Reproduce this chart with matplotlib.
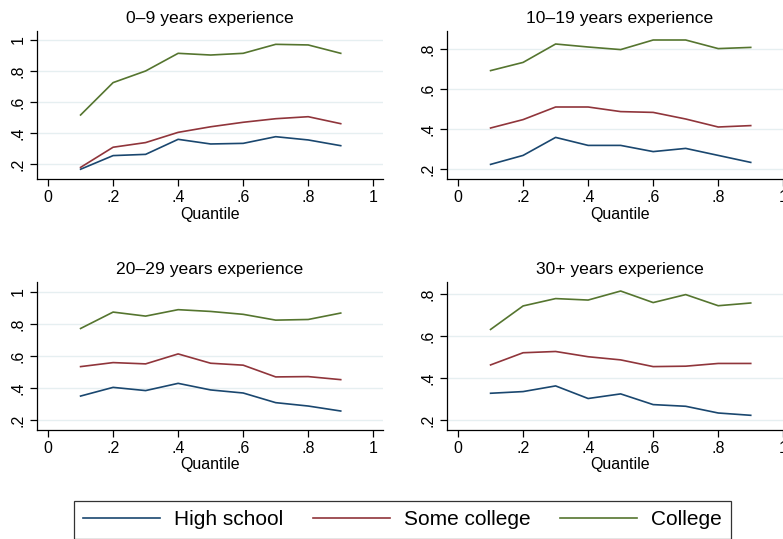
import matplotlib
matplotlib.use("Agg")
import matplotlib.pyplot as plt
import numpy as np

plt.rcParams['font.family'] = ['Liberation Sans', 'DejaVu Sans']

quantiles = [0.1, 0.2, 0.3, 0.4, 0.5, 0.6, 0.7, 0.8, 0.9]
series_names = ["High school", "Some college", "College"]
series_colors = ["#1a476f", "#90353b", "#55752f"]
panel_titles = ["0\u20139 years experience", "10\u201319 years experience",
                "20\u201329 years experience", "30+ years experience"]

# panel 1: 0-9 years
p1_hs = [0.166, 0.254, 0.262, 0.359, 0.329, 0.333, 0.376, 0.355, 0.318]
p1_sc = [0.178, 0.308, 0.338, 0.404, 0.440, 0.469, 0.492, 0.505, 0.460]
p1_co = [0.516, 0.725, 0.800, 0.914, 0.903, 0.914, 0.972, 0.968, 0.914]
# panel 2: 10-19 years
p2_hs = [0.223, 0.268, 0.358, 0.318, 0.318, 0.287, 0.303, 0.268, 0.233]
p2_sc = [0.405, 0.447, 0.510, 0.510, 0.487, 0.483, 0.450, 0.410, 0.417]
p2_co = [0.692, 0.733, 0.825, 0.810, 0.797, 0.845, 0.845, 0.802, 0.808]
# panel 3: 20-29 years
p3_hs = [0.351, 0.405, 0.385, 0.430, 0.389, 0.370, 0.310, 0.289, 0.258]
p3_sc = [0.534, 0.559, 0.551, 0.613, 0.555, 0.543, 0.470, 0.472, 0.453]
p3_co = [0.771, 0.873, 0.848, 0.888, 0.877, 0.859, 0.823, 0.827, 0.867]
# panel 4: 30+ years
p4_hs = [0.327, 0.335, 0.362, 0.302, 0.324, 0.273, 0.265, 0.233, 0.222]
p4_sc = [0.462, 0.520, 0.526, 0.501, 0.486, 0.454, 0.456, 0.469, 0.469]
p4_co = [0.631, 0.743, 0.778, 0.771, 0.814, 0.759, 0.797, 0.744, 0.757]

panels = [(p1_hs, p1_sc, p1_co), (p2_hs, p2_sc, p2_co),
          (p3_hs, p3_sc, p3_co), (p4_hs, p4_sc, p4_co)]

x_ticks = [0, 0.2, 0.4, 0.6, 0.8, 1.0]
x_ticklabels = ["0", ".2", ".4", ".6", ".8", "1"]
y_ticks_a = [0.2, 0.4, 0.6, 0.8, 1.0]
y_ticklabels_a = [".2", ".4", ".6", ".8", "1"]
y_ticks_b = [0.2, 0.4, 0.6, 0.8]
y_ticklabels_b = [".2", ".4", ".6", ".8"]

W, H = 783, 539
fig = plt.figure(figsize=(W / 100, H / 100), dpi=100)

# axes boxes in pixels: left, top, right, bottom
boxes = [(37, 31, 383, 179), (447, 31, 793, 179),
         (37, 282, 383, 430), (447, 282, 793, 430)]
ylims = [(0.103, 1.058), (0.15, 0.89), (0.14, 1.06), (0.152, 0.857)]
yticks = [(y_ticks_a, y_ticklabels_a), (y_ticks_b, y_ticklabels_b),
          (y_ticks_a, y_ticklabels_a), (y_ticks_b, y_ticklabels_b)]

handles = []
for i, (box, data) in enumerate(zip(boxes, panels)):
    l, t, r, b = box
    ax = fig.add_axes([l / W, 1 - b / H, (r - l) / W, (b - t) / H])
    yt, ytl = yticks[i]
    for yv in yt:
        ax.axhline(yv, color="#e6eff1", lw=1.0, zorder=0)
    hs = []
    for vals, name, col in zip(data, series_names, series_colors):
        ln, = ax.plot(quantiles, vals, color=col, lw=1.2, label=name)
        hs.append(ln)
    if i == 0:
        handles = hs
    ax.set_xlim(-0.034, 1.03)
    ax.set_ylim(*ylims[i])
    ax.set_xticks(x_ticks)
    ax.set_xticklabels(x_ticklabels, fontsize=11.5)
    ax.set_yticks(yt)
    ax.set_yticklabels(ytl, fontsize=11.5, rotation=90, va="center")
    ax.tick_params(direction="out", length=5, width=0.9, pad=3)
    ax.spines["top"].set_visible(False)
    ax.spines["right"].set_visible(False)
    ax.spines["left"].set_linewidth(0.9)
    ax.spines["bottom"].set_linewidth(0.9)
    ax.set_xlabel("Quantile", fontsize=11.5, labelpad=1)
    ax.set_title(panel_titles[i], fontsize=12.6, pad=6)

leg = fig.legend(handles, series_names, loc="upper left",
                 bbox_to_anchor=(74 / W, 1 - 501 / H), borderaxespad=0,
                 ncol=3, fontsize=15, frameon=True, fancybox=False,
                 edgecolor="black", handlelength=3.7, handletextpad=0.67,
                 columnspacing=1.4, borderpad=0.45)
leg.get_frame().set_linewidth(0.9)

fig.savefig("out.png", dpi=100)
